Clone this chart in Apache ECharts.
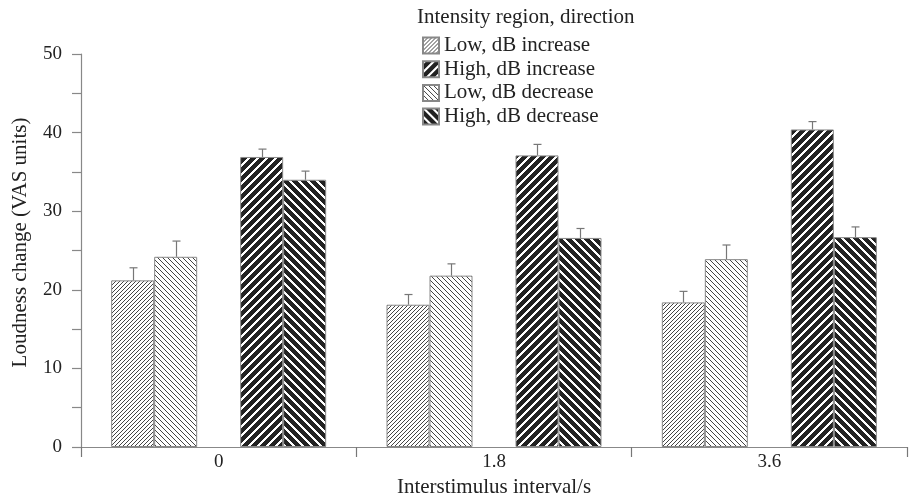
<!DOCTYPE html>
<html><head><meta charset="utf-8">
<script src="https://cdn.jsdelivr.net/npm/echarts@6/dist/echarts.min.js"></script>
<style>html,body{margin:0;padding:0;background:#fff}#c{width:910px;height:500px}</style>
</head><body><div id="c"></div>
<script>
const categories = ['0', '1.8', '3.6'];
const lowInc = [21.2, 18.1, 18.4];
const lowIncErr = [1.6, 1.3, 1.4];
const highInc = [36.9, 37.1, 40.4];
const highIncErr = [1.0, 1.4, 1.0];
const lowDec = [24.2, 21.8, 23.9];
const lowDecErr = [2.0, 1.5, 1.8];
const highDec = [34.0, 26.6, 26.7];
const highDecErr = [1.1, 1.2, 1.3];
const seriesNames = ['Low, dB increase', 'High, dB increase', 'Low, dB decrease', 'High, dB decrease'];

const FONT = 'Liberation Serif';
const BAR_W = 43;

function makePattern(period, width, dir, bg, fg) {
  const c = document.createElement('canvas');
  c.width = period; c.height = period;
  const ctx = c.getContext('2d');
  const img = ctx.createImageData(period, period);
  const parse = h => [parseInt(h.slice(1,3),16), parseInt(h.slice(3,5),16), parseInt(h.slice(5,7),16)];
  const b = parse(bg), f = parse(fg);
  for (let y = 0; y < period; y++) for (let x = 0; x < period; x++) {
    const k = dir > 0 ? (x + y) % period : ((x - y) % period + period) % period;
    const col = k < width ? f : b;
    const i = (y * period + x) * 4;
    img.data[i] = col[0]; img.data[i+1] = col[1]; img.data[i+2] = col[2]; img.data[i+3] = 255;
  }
  ctx.putImageData(img, 0, 0);
  return { image: c, repeat: 'repeat' };
}

const patLowInc = makePattern(4, 1, 1, '#ffffff', '#444444');
const patLowDec = makePattern(5, 1, -1, '#ffffff', '#444444');
const patHighInc = makePattern(9, 3, 1, '#222222', '#ffffff');
const patHighDec = makePattern(9, 3, -1, '#222222', '#ffffff');

function barSeries(name, data, pat) {
  return {
    name, type: 'bar', data, barWidth: BAR_W, barGap: '0%',
    itemStyle: { color: pat, borderColor: '#888888', borderWidth: 1 },
    emphasis: { disabled: true }, animation: false, z: 2
  };
}

function errSeries(slot, vals, errs) {
  return {
    type: 'custom', silent: true, animation: false, z: 3,
    data: vals.map((v, i) => [i, v, errs[i]]),
    renderItem: function (params, api) {
      const idx = api.value(0), v = api.value(1), e = api.value(2);
      const p0 = api.coord([idx, v]);
      const p1 = api.coord([idx, v + e]);
      const cx = Math.round(p0[0] + (slot - 2) * BAR_W) + 0.5;
      const st = { stroke: '#777777', lineWidth: 1.2 };
      return { type: 'group', children: [
        { type: 'line', shape: { x1: cx, y1: p0[1], x2: cx, y2: p1[1] }, style: st },
        { type: 'line', shape: { x1: cx - 4, y1: p1[1], x2: cx + 4, y2: p1[1] }, style: st }
      ]};
    }
  };
}

const chart = echarts.init(document.getElementById('c'), null, { renderer: 'canvas' });
chart.setOption({
  animation: false,
  backgroundColor: '#ffffff',
  title: {
    text: 'Intensity region, direction', left: 417, top: 7, padding: 0,
    textStyle: { fontFamily: FONT, fontSize: 21, fontWeight: 'normal', color: '#222' }
  },
  legend: {
    data: seriesNames, orient: 'vertical', left: 422, top: 35, padding: 0,
    itemWidth: 16, itemHeight: 16, itemGap: 2.7, itemTextGap: 7,
    icon: 'rect',
    textStyle: { fontFamily: FONT, fontSize: 21, color: '#222' },
    selectedMode: false
  },
  grid: { left: 81, right: 3, top: 54, bottom: 53, containLabel: false, outerBoundsMode: 'none' },
  xAxis: {
    type: 'category', data: categories,
    name: 'Interstimulus interval/s', nameLocation: 'middle', nameGap: 28,
    nameTextStyle: { fontFamily: FONT, fontSize: 21, color: '#222' },
    axisLine: { lineStyle: { color: '#888', width: 1.2 } },
    axisTick: { show: true, length: 10, lineStyle: { color: '#777', width: 1.2 } },
    axisLabel: { fontFamily: FONT, fontSize: 19, color: '#222', margin: 6 }
  },
  yAxis: {
    type: 'value', min: 0, max: 50, interval: 5,
    name: 'Loudness change (VAS units)', nameLocation: 'middle', nameGap: 50,
    nameTextStyle: { fontFamily: FONT, fontSize: 21, color: '#222', padding: [0, 0, 0, 16] },
    axisLine: { show: true, lineStyle: { color: '#888', width: 1.2 } },
    axisTick: { show: true, length: 9, lineStyle: { color: '#888', width: 1.2 } },
    splitLine: { show: false },
    axisLabel: {
      fontFamily: FONT, fontSize: 19, color: '#222', margin: 19,
      formatter: v => (v % 10 === 0 ? String(v) : '')
    }
  },
  series: [
    barSeries(seriesNames[0], lowInc, patLowInc),
    barSeries(seriesNames[2], lowDec, patLowDec),
    { name: 'gap', type: 'bar', data: ['-', '-', '-'], barWidth: BAR_W, barGap: '0%' },
    barSeries(seriesNames[1], highInc, patHighInc),
    barSeries(seriesNames[3], highDec, patHighDec),
    errSeries(0, lowInc, lowIncErr),
    errSeries(1, lowDec, lowDecErr),
    errSeries(3, highInc, highIncErr),
    errSeries(4, highDec, highDecErr)
  ]
});
</script></body></html>
